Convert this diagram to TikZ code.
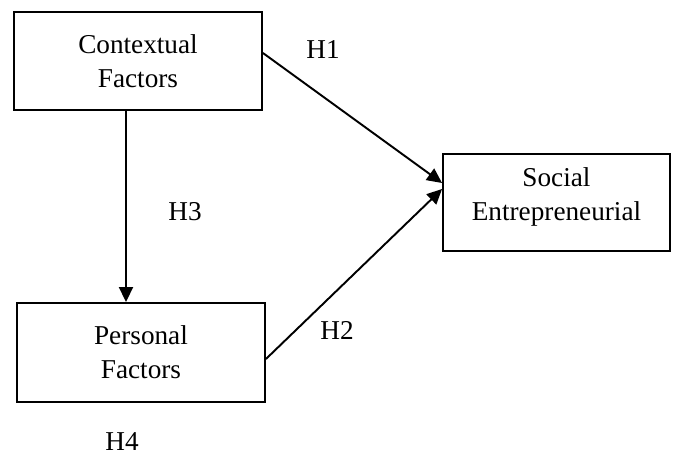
\documentclass[tikz,border=0pt]{standalone}
\usepackage{fontspec}
\setmainfont{Liberation Serif}
\usepackage{xcolor}
\usetikzlibrary{arrows.meta}

\begin{document}
\begin{tikzpicture}[x=0.02cm, y=-0.02cm,
    box/.style={draw, line width=1.1pt, align=center, inner sep=0pt,
                font=\fontsize{15.5}{19.5}\selectfont},
    hyp/.style={font=\fontsize{15.5}{19.5}\selectfont, inner sep=0pt},
    arr/.style={line width=1.1pt, -{Triangle[length=3mm, width=2.8mm]}}]
    \useasboundingbox (0,0) rectangle (679,456);

    % ========== Konstrukty (boxes) ==========
    \node[box, minimum width=4.96cm, minimum height=1.96cm] (ctx) at (138,61) {Contextual\\Factors};
    \node[box, minimum width=4.96cm, minimum height=1.98cm] (pers) at (141,352.5) {Personal\\Factors};
    \node[box, minimum width=4.54cm, minimum height=1.94cm] (soc) at (556.5,202.5) {};
    \node[hyp, align=center] (soctxt) at (556.5,197) {Social\\Entrepreneurial};

    % ========== Hipotezy (labels) ==========
    \node[hyp] (h1) at (323,50) {H1};
    \node[hyp] (h2) at (337,330) {H2};
    \node[hyp] (h3) at (185,212) {H3};
    \node[hyp] (h4) at (122,442) {H4};

    % ========== Sciezki (paths) ==========
    \draw[arr] ([yshift=0.16cm]ctx.east) -- ([yshift=0.39cm]soc.west);
    \draw[arr] ([yshift=-0.13cm]pers.east) -- ([yshift=0.27cm]soc.west);
    \draw[arr] ([xshift=-0.24cm]ctx.south) -- ([xshift=-0.24cm]ctx.south |- pers.north);
\end{tikzpicture}
\end{document}
